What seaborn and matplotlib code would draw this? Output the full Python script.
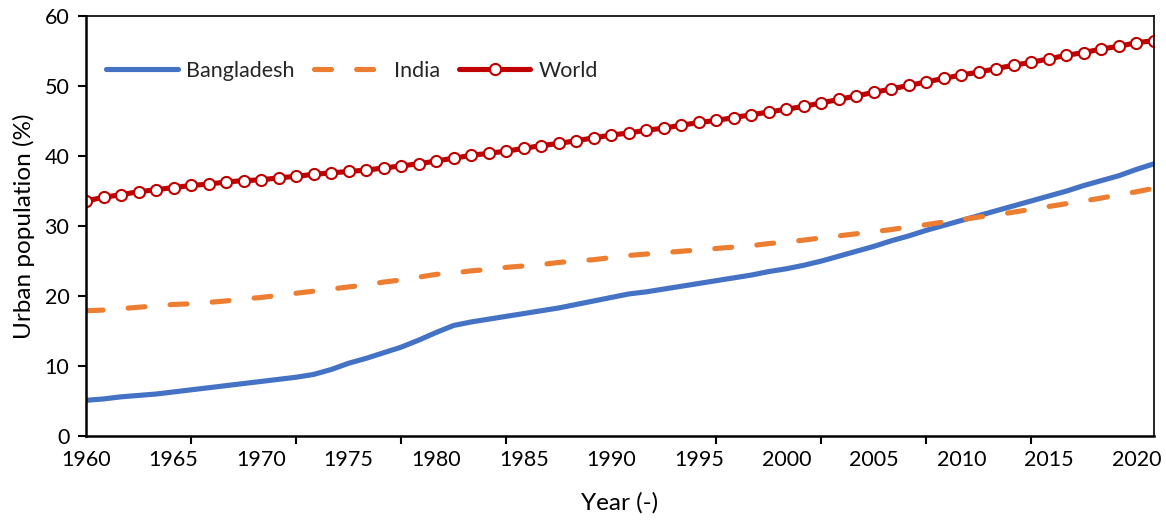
import numpy as np
import pandas as pd
import matplotlib
matplotlib.use("Agg")
import matplotlib.pyplot as plt
import seaborn as sns

years = list(range(1960, 2022))

bangladesh = [5.1, 5.3, 5.6, 5.8, 6.0, 6.3, 6.6, 6.9, 7.2, 7.5,
              7.8, 8.1, 8.4, 8.8, 9.5, 10.4, 11.1, 11.9, 12.7, 13.7,
              14.8, 15.8, 16.3, 16.7, 17.1, 17.5, 17.9, 18.3, 18.8, 19.3,
              19.8, 20.3, 20.6, 21.0, 21.4, 21.8, 22.2, 22.6, 23.0, 23.5,
              23.9, 24.4, 25.0, 25.7, 26.4, 27.1, 27.9, 28.6, 29.4, 30.1,
              30.8, 31.5, 32.2, 32.9, 33.6, 34.3, 35.0, 35.8, 36.5, 37.2,
              38.1, 38.9]

india = [17.9, 18.0, 18.2, 18.4, 18.6, 18.8, 18.9, 19.1, 19.3, 19.6,
         19.8, 20.1, 20.4, 20.7, 21.0, 21.3, 21.6, 22.0, 22.3, 22.7,
         23.1, 23.3, 23.6, 23.8, 24.1, 24.3, 24.5, 24.8, 25.0, 25.2,
         25.5, 25.8, 26.0, 26.2, 26.4, 26.6, 26.8, 27.0, 27.2, 27.5,
         27.7, 28.0, 28.3, 28.6, 28.9, 29.2, 29.5, 29.9, 30.2, 30.6,
         30.9, 31.3, 31.6, 32.0, 32.4, 32.8, 33.2, 33.6, 34.0, 34.5,
         34.9, 35.4]

world = [33.6, 34.1, 34.5, 34.9, 35.2, 35.5, 35.8, 36.0, 36.3, 36.5,
         36.6, 36.9, 37.1, 37.4, 37.6, 37.8, 38.0, 38.3, 38.6, 38.9,
         39.3, 39.7, 40.1, 40.4, 40.7, 41.1, 41.5, 41.8, 42.2, 42.6,
         43.0, 43.3, 43.7, 44.0, 44.4, 44.8, 45.1, 45.5, 45.9, 46.3,
         46.7, 47.1, 47.6, 48.1, 48.6, 49.1, 49.6, 50.1, 50.6, 51.1,
         51.6, 52.0, 52.5, 53.0, 53.4, 53.9, 54.4, 54.8, 55.3, 55.7,
         56.2, 56.5]

x_label_years = list(range(1960, 2021, 5))
x_tick_years = list(range(1960, 2021, 6))
y_ticks = list(range(0, 61, 10))

sns.set_theme(style="white")
plt.rcParams["font.family"] = ["Lato", "DejaVu Sans"]

df = pd.DataFrame({"Year": years, "Bangladesh": bangladesh,
                   "India": india, "World": world})

fig = plt.figure(figsize=(11.66, 5.2), dpi=100)
ax = fig.add_axes([0.0738, 0.1615, 0.9159, 0.8075])

lw = 3.7
sns.lineplot(data=df, x="Year", y="Bangladesh", ax=ax, color="#4472C4",
             linewidth=lw, label="Bangladesh", solid_capstyle="round")
sns.lineplot(data=df, x="Year", y="India", ax=ax, color="#ED7D31",
             linewidth=lw, label="India", linestyle=(0, (3.3, 4.9)),
             dash_capstyle="round")
sns.lineplot(data=df, x="Year", y="World", ax=ax, color="#C00000",
             linewidth=lw, label="World", marker="o", markersize=8,
             markerfacecolor="white", markeredgecolor="#C00000",
             markeredgewidth=1.5, solid_capstyle="round")

ax.set_xlim(1960, 2021)
ax.set_ylim(0, 60)
ax.set_yticks(y_ticks)
ax.set_xticks(x_label_years)
ax.set_xticks(x_tick_years, minor=True)
ax.tick_params(axis="x", which="major", length=0, pad=10, labelsize=15.5,
               colors="black")
ax.tick_params(axis="x", which="minor", bottom=True, length=6, width=1.5,
               color="black")
ax.tick_params(axis="y", which="major", left=True, length=6, width=1.5,
               labelsize=15.5, pad=6, colors="black")

ax.set_xlabel("Year (-)", fontsize=17.5, color="black", labelpad=16)
ax.set_ylabel("Urban population (%)", fontsize=17.5, color="black",
              labelpad=7)

for side in ["left", "bottom"]:
    ax.spines[side].set_color("black")
    ax.spines[side].set_linewidth(1.8)
for side in ["top", "right"]:
    ax.spines[side].set_visible(True)
    ax.spines[side].set_color("black")
    ax.spines[side].set_linewidth(1.2)

ax.legend(loc="upper left", bbox_to_anchor=(0.005, 0.93), ncol=3,
          frameon=False, fontsize=15.5, handlelength=3.3,
          columnspacing=0.9, handletextpad=0.4, borderaxespad=0.3)
ax.grid(False)

fig.savefig("out.png", dpi=100)
